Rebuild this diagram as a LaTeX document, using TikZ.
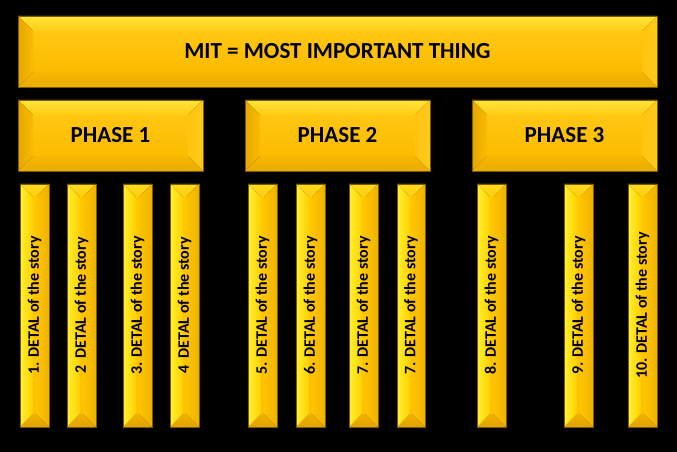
\documentclass[tikz,border=0pt]{standalone}
\usepackage{fontspec}
\setmainfont{Carlito}
\definecolor{edge}{HTML}{7A5C00}
% big boxes
\definecolor{bigmida}{HTML}{FFC612}
\definecolor{bigmidb}{HTML}{FBBC00}
\definecolor{bigtopa}{HTML}{FFE43C}
\definecolor{bigtopb}{HTML}{FFCC12}
\definecolor{bigbota}{HTML}{F6B800}
\definecolor{bigbotb}{HTML}{EAAC00}
\definecolor{biglefta}{HTML}{E8A600}
\definecolor{bigleftb}{HTML}{F8BC00}
\definecolor{bigrighta}{HTML}{FFC40E}
\definecolor{bigrightb}{HTML}{FFC81C}
% columns
\definecolor{colmida}{HTML}{FFC800}
\definecolor{colmidb}{HTML}{FFC000}
\definecolor{coltopa}{HTML}{FFDA20}
\definecolor{coltopb}{HTML}{FFCC10}
\definecolor{colbota}{HTML}{F2B200}
\definecolor{colbotb}{HTML}{E2A200}
\definecolor{collefta}{HTML}{FFF030}
\definecolor{colleftb}{HTML}{FFD000}
\definecolor{colrighta}{HTML}{FFC400}
\definecolor{colrightb}{HTML}{F0B200}
\tikzset{
  bigtext/.style={font=\fontsize{23}{27}\selectfont\bfseries, text=black, inner sep=0pt},
  coltext/.style={font=\fontsize{16}{18}\selectfont\bfseries, text=black, inner sep=0pt},
  rim/.style={draw=edge, line width=0.8pt}
}
% #1 name, #2 left, #3 top, #4 right, #5 bottom (image px), #6 bevel, #7 kind, #8 rotation, #9 text
\newcommand\gbox[9]{%
  \shade[top color=#7mida, bottom color=#7midb] ({#2+#6},{452-#3-#6}) rectangle ({#4-#6},{452-#5+#6});
  \shade[top color=#7topa, bottom color=#7topb] (#2,{452-#3}) -- (#4,{452-#3}) -- ({#4-#6},{452-#3-#6}) -- ({#2+#6},{452-#3-#6}) -- cycle;
  \shade[top color=#7bota, bottom color=#7botb] (#2,{452-#5}) -- (#4,{452-#5}) -- ({#4-#6},{452-#5+#6}) -- ({#2+#6},{452-#5+#6}) -- cycle;
  \shade[left color=#7lefta, right color=#7leftb] (#2,{452-#3}) -- ({#2+#6},{452-#3-#6}) -- ({#2+#6},{452-#5+#6}) -- (#2,{452-#5}) -- cycle;
  \shade[left color=#7righta, right color=#7rightb] (#4,{452-#3}) -- ({#4-#6},{452-#3-#6}) -- ({#4-#6},{452-#5+#6}) -- (#4,{452-#5}) -- cycle;
  \draw[rim] (#2,{452-#3}) rectangle (#4,{452-#5});
  \node[#7text, rotate=#8] (#1) at ({(#2+#4)/2},{452-(#3+#5)/2}) {#9};
}
\begin{document}
\begin{tikzpicture}[x=1pt,y=1pt]
\fill[black] (0,0) rectangle (677,452);
\useasboundingbox (0,0) rectangle (677,452);
\gbox{top}{18}{16}{657}{87}{15}{big}{0}{MIT = MOST IMPORTANT THING}
\gbox{p1}{18}{100}{203}{171}{15}{big}{0}{PHASE 1}
\gbox{p2}{245}{100}{430}{171}{15}{big}{0}{PHASE 2}
\gbox{p3}{472}{100}{657}{171}{15}{big}{0}{PHASE 3}
\gbox{d1}{20}{184}{49}{427}{13}{col}{90}{1. DETAL of the story}
\gbox{d2}{67}{184}{96}{427}{13}{col}{90}{2\ \ DETAL of the story}
\gbox{d3}{123}{184}{152}{427}{13}{col}{90}{3. DETAL of the story}
\gbox{d4}{170}{184}{199}{427}{13}{col}{90}{4\ \ DETAL of the story}
\gbox{d5}{248}{184}{277}{427}{13}{col}{90}{5. DETAL of the story}
\gbox{d6}{296}{184}{325}{427}{13}{col}{90}{6. DETAL of the story}
\gbox{d7}{349}{184}{378}{427}{13}{col}{90}{7. DETAL of the story}
\gbox{d7b}{397}{184}{425}{427}{13}{col}{90}{7. DETAL of the story}
\gbox{d8}{477}{184}{506}{427}{13}{col}{90}{8. DETAL of the story}
\gbox{d9}{564}{184}{593}{427}{13}{col}{90}{9. DETAL of the story}
\gbox{d10}{628}{184}{657}{427}{13}{col}{90}{10. DETAL of the story}
\end{tikzpicture}
\end{document}
